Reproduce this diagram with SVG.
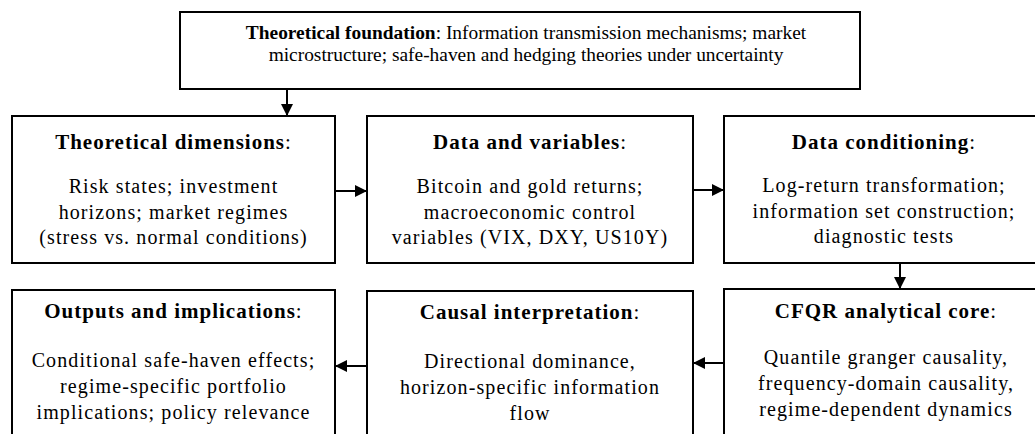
<svg xmlns="http://www.w3.org/2000/svg" width="1035" height="434" viewBox="0 0 1035 434">
<defs>
<marker id="arr" markerWidth="12" markerHeight="12" refX="12" refY="6" orient="auto" markerUnits="userSpaceOnUse">
<path d="M0,0 L12,6 L0,12 z" fill="#000"/>
</marker>
<style>
.box{fill:#fff;stroke:#000;stroke-width:2}
.conn{stroke:#000;stroke-width:2;fill:none}
text{font-family:"Liberation Serif","Times New Roman",serif;fill:#000;text-anchor:middle}
.t{font-size:21px;font-weight:bold;letter-spacing:1px}
.t tspan.c{font-weight:normal}
.b{font-size:20px;letter-spacing:1.1px}
.top{font-size:19.4px;letter-spacing:0px}
</style>
</defs>
<rect width="1035" height="434" fill="#fff"/>
<g id="foundation">
<rect class="box" x="180" y="12" width="680" height="77"/>
<text class="top" x="526" y="39"><tspan font-weight="bold">Theoretical foundation</tspan>: Information transmission mechanisms; market</text>
<text class="top" x="526" y="61">microstructure; safe-haven and hedging theories under uncertainty</text>
</g>
<g id="dimensions">
<rect class="box" x="12" y="116" width="323" height="147"/>
<text class="t" x="173.5" y="149">Theoretical dimensions<tspan class="c">:</tspan></text>
<text class="b" x="173.5" y="193">Risk states; investment</text>
<text class="b" x="173.5" y="219">horizons; market regimes</text>
<text class="b" x="173.5" y="244">(stress vs. normal conditions)</text>
</g>
<g id="data">
<rect class="box" x="367" y="116" width="326" height="147"/>
<text class="t" x="530" y="149">Data and variables<tspan class="c">:</tspan></text>
<text class="b" x="530" y="193">Bitcoin and gold returns;</text>
<text class="b" x="530" y="219">macroeconomic control</text>
<text class="b" x="530" y="244">variables (VIX, DXY, US10Y)</text>
</g>
<g id="conditioning">
<rect class="box" x="724" y="116" width="330" height="147"/>
<text class="t" x="884" y="149">Data conditioning<tspan class="c">:</tspan></text>
<text class="b" x="884" y="192">Log-return transformation;</text>
<text class="b" x="884" y="218">information set construction;</text>
<text class="b" x="884" y="243">diagnostic tests</text>
</g>
<g id="core">
<rect class="box" x="724" y="289" width="330" height="160"/>
<text class="t" x="886" y="318">CFQR analytical core<tspan class="c">:</tspan></text>
<text class="b" x="886" y="364">Quantile granger causality,</text>
<text class="b" x="886" y="390">frequency-domain causality,</text>
<text class="b" x="886" y="416">regime-dependent dynamics</text>
</g>
<g id="interpretation">
<rect class="box" x="367" y="291" width="326" height="160"/>
<text class="t" x="530" y="319">Causal interpretation<tspan class="c">:</tspan></text>
<text class="b" x="530" y="368">Directional dominance,</text>
<text class="b" x="530" y="394">horizon-specific information</text>
<text class="b" x="530" y="420">flow</text>
</g>
<g id="outputs">
<rect class="box" x="12" y="290" width="323" height="160"/>
<text class="t" x="173.5" y="318">Outputs and implications<tspan class="c">:</tspan></text>
<text class="b" x="173.5" y="367">Conditional safe-haven effects;</text>
<text class="b" x="173.5" y="393">regime-specific portfolio</text>
<text class="b" x="173.5" y="419">implications; policy relevance</text>
</g>
<g id="connectors">
<line class="conn" x1="287" y1="89" x2="287" y2="116" marker-end="url(#arr)"/>
<line class="conn" x1="335" y1="191" x2="367" y2="191" marker-end="url(#arr)"/>
<line class="conn" x1="693" y1="190" x2="724" y2="190" marker-end="url(#arr)"/>
<line class="conn" x1="900" y1="263" x2="900" y2="289" marker-end="url(#arr)"/>
<line class="conn" x1="724" y1="363" x2="693" y2="363" marker-end="url(#arr)"/>
<line class="conn" x1="367" y1="366" x2="335" y2="366" marker-end="url(#arr)"/>
</g>
</svg>
